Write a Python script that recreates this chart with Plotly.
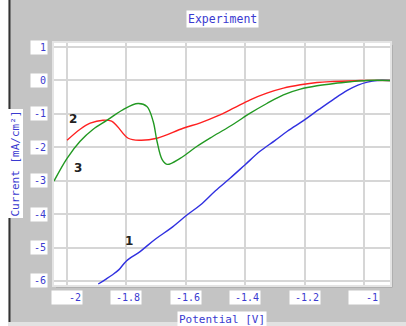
import plotly.graph_objects as go

# Curve 1 (blue)
x1 = [-1.895, -1.87, -1.848, -1.825, -1.80, -1.754, -1.703, -1.65, -1.595, -1.55, -1.50, -1.45, -1.40, -1.35, -1.30, -1.258, -1.20, -1.15, -1.10, -1.056, -1.02, -0.988, -0.955, -0.912]
y1 = [-6.09, -5.95, -5.82, -5.66, -5.40, -5.12, -4.75, -4.42, -4.02, -3.72, -3.30, -2.92, -2.52, -2.12, -1.80, -1.52, -1.18, -0.86, -0.55, -0.30, -0.14, -0.05, 0.0, 0.0]
# Curve 2 (red)
x2 = [-2.0, -1.956, -1.922, -1.879, -1.85, -1.831, -1.794, -1.754, -1.697, -1.609, -1.551, -1.495, -1.439, -1.383, -1.327, -1.271, -1.214, -1.158, -1.10, -1.01, -0.912]
y2 = [-1.79, -1.46, -1.28, -1.19, -1.22, -1.37, -1.73, -1.79, -1.73, -1.43, -1.27, -1.07, -0.83, -0.58, -0.38, -0.23, -0.13, -0.06, -0.03, 0.0, 0.0]
# Curve 3 (green)
x3 = [-2.044, -2.0, -1.956, -1.912, -1.865, -1.811, -1.761, -1.731, -1.710, -1.697, -1.680, -1.663, -1.619, -1.562, -1.508, -1.44, -1.383, -1.327, -1.271, -1.214, -1.158, -1.10, -1.045, -0.99, -0.912]
y3 = [-3.01, -2.33, -1.82, -1.46, -1.19, -0.87, -0.69, -0.78, -1.22, -1.82, -2.36, -2.51, -2.33, -1.97, -1.67, -1.31, -0.98, -0.69, -0.43, -0.26, -0.16, -0.09, -0.04, 0.0, 0.0]

x_ticks = [-2, -1.8, -1.6, -1.4, -1.2, -1]
x_tick_labels = ["-2", "-1.8", "-1.6", "-1.4", "-1.2", "-1"]
y_ticks = [1, 0, -1, -2, -3, -4, -5, -6]
y_tick_labels = ["1", "0", "-1", "-2", "-3", "-4", "-5", "-6"]

curve_labels = ["1", "2", "3"]
label_x = [-1.791, -1.98, -1.963]
label_y = [-4.81, -1.16, -2.63]

BLUE_TXT = "#3a3ad0"
FONT = "DejaVu Sans Mono"

fig = go.Figure()
fig.add_trace(go.Scatter(x=x1, y=y1, mode="lines", line=dict(color="#3030e0", width=1.4), line_shape="spline"))
fig.add_trace(go.Scatter(x=x2, y=y2, mode="lines", line=dict(color="#ff2020", width=1.4), line_shape="spline"))
fig.add_trace(go.Scatter(x=x3, y=y3, mode="lines", line=dict(color="#229922", width=1.4), line_shape="spline"))

ann = []
for t, lx, ly in zip(curve_labels, label_x, label_y):
    ann.append(dict(x=lx, y=ly, xref="x", yref="y", text="<b>" + t + "</b>", showarrow=False,
                    font=dict(family="DejaVu Sans", size=12, color="#222222")))
for v, t in zip(x_ticks, x_tick_labels):
    ann.append(dict(x=v, y=0, xref="x", yref="paper", yanchor="top", yshift=-5, text=t, showarrow=False,
                    width=28, align="right", bgcolor="white",
                    font=dict(family=FONT, size=10, color=BLUE_TXT)))
for v, t in zip(y_ticks, y_tick_labels):
    ann.append(dict(x=0, y=v, xref="paper", yref="y", xanchor="right", xshift=-6, text=t, showarrow=False,
                    width=14, align="right", bgcolor="white",
                    font=dict(family=FONT, size=10, color=BLUE_TXT)))
ann.append(dict(x=0.5, y=1, xref="paper", yref="paper", yanchor="bottom", yshift=15, text="Experiment",
                showarrow=False, bgcolor="white", font=dict(family=FONT, size=11.5, color=BLUE_TXT)))
ann.append(dict(x=0.5, y=0, xref="paper", yref="paper", yanchor="top", yshift=-26, text="Potential [V]",
                showarrow=False, bgcolor="white", font=dict(family=FONT, size=11, color=BLUE_TXT)))
ann.append(dict(x=0, y=0.5, xref="paper", yref="paper", xanchor="right", xshift=-31, text="Current [mA/cm²]",
                textangle=-90, showarrow=False, bgcolor="white", font=dict(family=FONT, size=11, color=BLUE_TXT)))

PW, PH = 336.0, 242.0
def px(v):
    return (v - 54) / PW
def py(v):
    return (285 - v) / PH

shapes = [
    dict(type="rect", xref="paper", yref="paper", x0=px(0), x1=px(8.5), y0=py(330), y1=py(-5),
         fillcolor="white", line_width=0, layer="below"),
    dict(type="rect", xref="paper", yref="paper", x0=px(8.5), x1=px(10.5), y0=py(322), y1=py(-5),
         fillcolor="#333333", line_width=0, layer="below"),
    dict(type="rect", xref="paper", yref="paper", x0=px(8.5), x1=px(410), y0=py(330), y1=py(322),
         fillcolor="#e2e2e2", line_width=0, layer="below"),
    dict(type="rect", xref="paper", yref="paper", x0=px(56), x1=px(392.5), y0=py(287.5), y1=py(45),
         fillcolor="#9a9a9a", line_width=0, layer="below"),
    dict(type="rect", xref="paper", yref="paper", x0=0, x1=1, y0=0, y1=1,
         fillcolor="white", line_width=0, layer="below"),
]

fig.update_layout(
    width=406, height=326,
    margin=dict(l=54, r=16, t=43, b=41),
    paper_bgcolor="#c4c4c4", plot_bgcolor="rgba(0,0,0,0)",
    showlegend=False,
    annotations=ann,
    shapes=shapes,
    xaxis=dict(range=[-2.044, -0.912], tickvals=x_ticks, showticklabels=False, showgrid=True,
               gridcolor="#d6d6d6", gridwidth=1.5, zeroline=False, showline=True, linecolor="#e4e4e4",
               linewidth=2, mirror=True, ticks=""),
    yaxis=dict(range=[-6.12, 1.12], tickvals=y_ticks, showticklabels=False, showgrid=True,
               gridcolor="#d6d6d6", gridwidth=1.5, zeroline=False, showline=True, linecolor="#e4e4e4",
               linewidth=2, mirror=True, ticks=""),
)
fig.write_html("out.html", config={"displayModeBar": False},
               post_script="document.body.style.margin='0';document.body.style.overflow='hidden';")
